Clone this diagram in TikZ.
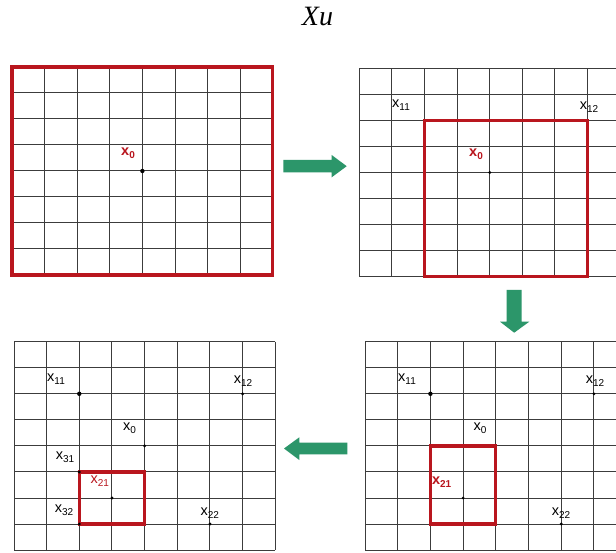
\documentclass[tikz,border=0pt]{standalone}
\usepackage{fontspec}
\setmainfont{Liberation Sans}
\newfontfamily\titlefont{Liberation Serif}
\definecolor{gridred}{RGB}{185,22,30}
\definecolor{arrowgreen}{RGB}{44,150,106}
\definecolor{gridgray}{RGB}{60,60,60}
\newcommand{\lbl}[2]{x\raisebox{-3pt}{\fontsize{10}{10}\selectfont #1}}
\begin{document}
\begin{tikzpicture}[x=1pt,y=-1pt,
  gridline/.style={draw=gridgray,line width=1pt},
  redbox/.style={draw=gridred,line width=3.2pt},
  ptdot/.style={circle,fill=black,inner sep=0pt,minimum size=4.4pt},
  smalldot/.style={circle,fill=black,inner sep=0pt,minimum size=3.2pt},
  lab/.style={inner sep=0pt,font=\fontsize{14.5}{14.5}\selectfont,text=black},
  redlab/.style={lab,text=gridred},
  boldred/.style={lab,text=gridred,font=\fontsize{14.5}{14.5}\selectfont\bfseries},
  blockarrow/.style={fill=arrowgreen,draw=none}]
\useasboundingbox (0,0) rectangle (616,553);
\fill[white] (0,0) rectangle (616,553);
\begin{scope}
\clip (0,0) rectangle (616,553);
% title
\node[inner sep=0pt,anchor=base,font=\titlefont\itshape\fontsize{28}{28}\selectfont] (title) at (317.5,26) {Xu};

% ---------- top-left grid ----------
\foreach \i in {0,...,8} {
  \draw[gridline] ({12+\i*32.6},67) -- ({12+\i*32.6},275);
  \draw[gridline] (12,{67+\i*26}) -- (272.8,{67+\i*26});
}
\draw[redbox] (12,67) rectangle (272.8,275);
\node[ptdot] (a0) at (142.4,171) {};
\node[boldred] (a0lab) at (128,153) {\lbl{0}{}};

% ---------- top-right grid ----------
\foreach \i in {0,...,7} {
  \draw[gridline] ({359.3+\i*32.6},68.3) -- ({359.3+\i*32.6},276.7);
}
\foreach \i in {0,...,8} {
  \draw[gridline] (359.3,{68.3+\i*26.05}) -- (616,{68.3+\i*26.05});
}
\draw[redbox] (424.5,120.4) rectangle (587.5,276.7);
\node[smalldot] (b0) at (489.7,172.5) {};
\node[boldred] (b0lab) at (476,154) {\lbl{0}{}};
\node[lab] (b11lab) at (401,105.5) {\lbl{11}{}};
\node[lab] (b12lab) at (589,107) {\lbl{12}{}};

% ---------- bottom-left grid ----------
\foreach \i in {0,...,8} {
  \draw[gridline] ({14+\i*32.66},341.7) -- ({14+\i*32.66},550.1);
  \draw[gridline] (14,{341.7+\i*26.05}) -- (275.3,{341.7+\i*26.05});
}
\draw[redbox] (79.3,472) rectangle (144.6,524.05);
\node[ptdot] (c11) at (79.3,393.8) {};
\node[smalldot] (c12) at (242.6,393.8) {};
\node[smalldot] (c0) at (144.6,445.9) {};
\node[smalldot] (c21) at (112,498) {};
\node[smalldot] (c22) at (210,524.05) {};
\node[smalldot] (c31) at (79.3,472) {};
\node[smalldot] (c32) at (79.3,524.05) {};
\node[lab] (c11lab) at (56,379) {\lbl{11}{}};
\node[lab] (c12lab) at (243,381.5) {\lbl{12}{}};
\node[lab] (c0lab) at (129.5,428) {\lbl{0}{}};
\node[lab] (c31lab) at (65,457.5) {\lbl{31}{}};
\node[redlab] (c21lab) at (99.7,481.5) {\lbl{21}{}};
\node[lab] (c32lab) at (64,510) {\lbl{32}{}};
\node[lab] (c22lab) at (209.7,513) {\lbl{22}{}};

% ---------- bottom-right grid ----------
\foreach \i in {0,...,7} {
  \draw[gridline] ({365+\i*32.7},341.7) -- ({365+\i*32.7},550.1);
}
\foreach \i in {0,...,8} {
  \draw[gridline] (365,{341.7+\i*26.05}) -- (616,{341.7+\i*26.05});
}
\draw[redbox] (430.4,445.9) rectangle (495.8,524.05);
\node[ptdot] (d11) at (430.4,393.8) {};
\node[smalldot] (d12) at (593.9,393.8) {};
\node[smalldot] (d21) at (463.1,498) {};
\node[smalldot] (d22) at (561.2,524.05) {};
\node[lab] (d11lab) at (407,379) {\lbl{11}{}};
\node[lab] (d12lab) at (595,381.5) {\lbl{12}{}};
\node[lab] (d0lab) at (480,428) {\lbl{0}{}};
\node[boldred] (d21lab) at (441.7,482) {\lbl{21}{}};
\node[lab] (d22lab) at (561,513) {\lbl{22}{}};

% ---------- block arrows ----------
% right
\fill[blockarrow] (283.3,160) -- (331.7,160) -- (331.7,155) -- (346.7,166.2)
  -- (331.7,177.3) -- (331.7,172.3) -- (283.3,172.3) -- cycle;
% down
\fill[blockarrow] (506.7,290) -- (521.7,290) -- (521.7,321.7) -- (529.3,321.7)
  -- (514.2,332.7) -- (500,321.7) -- (506.7,321.7) -- cycle;
% left
\fill[blockarrow] (347.3,442.7) -- (299.3,442.7) -- (299.3,437.3) -- (284,448.5)
  -- (299.3,460) -- (299.3,454.3) -- (347.3,454.3) -- cycle;
\end{scope}
\end{tikzpicture}
\end{document}
